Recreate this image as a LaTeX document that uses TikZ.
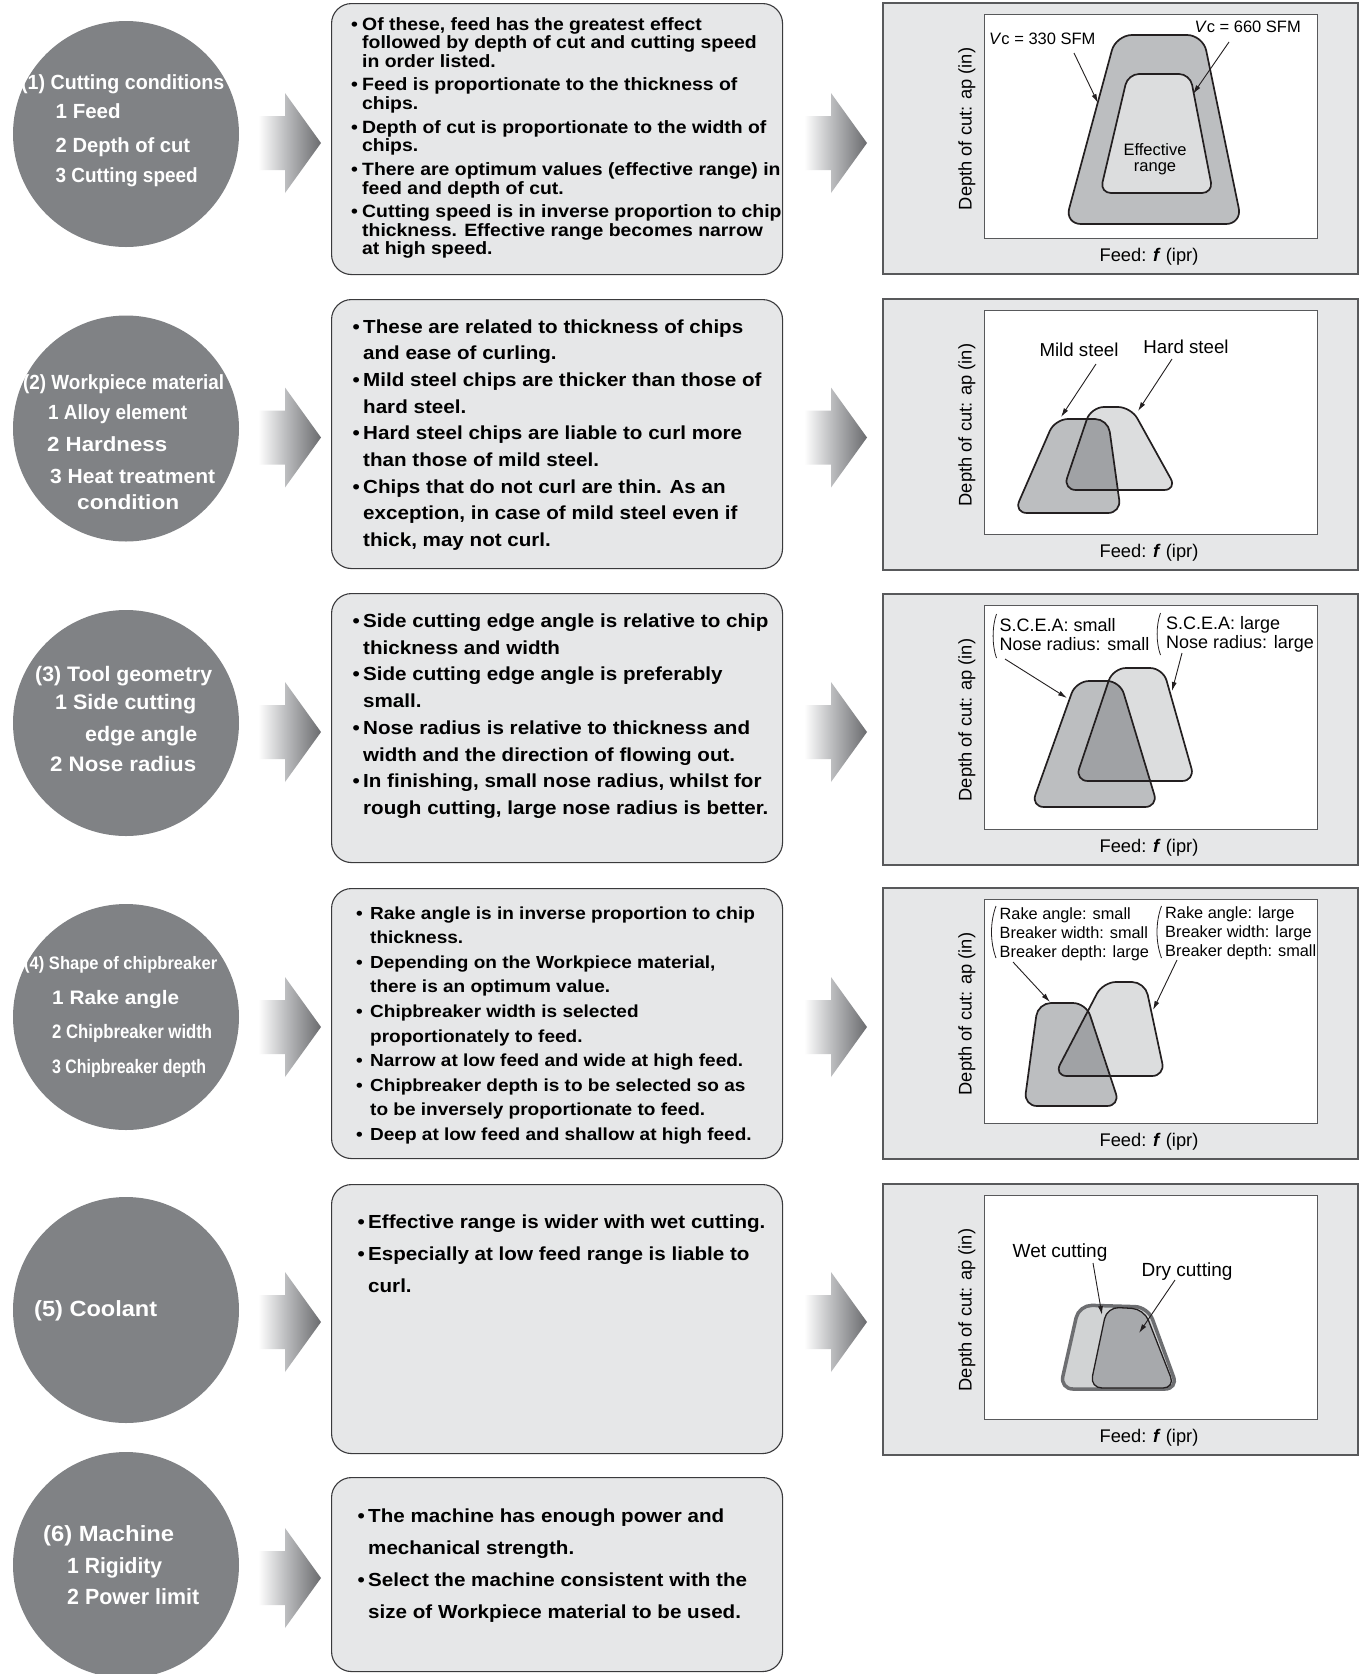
\documentclass[tikz,border=0pt]{standalone}
\usepackage{fontspec}
\setmainfont{Liberation Sans}
\newfontfamily\wfont[FakeStretch=1.09]{Liberation Sans}
\usepackage{graphicx}
\usetikzlibrary{arrows.meta}
\definecolor{discgray}{HTML}{808285}
\definecolor{boxfill}{HTML}{E6E7E8}
\definecolor{boxline}{HTML}{3A3A3C}
\definecolor{panline}{HTML}{58595B}
\definecolor{shA}{HTML}{BCBEC0}
\definecolor{shB}{HTML}{DCDDDE}
\definecolor{shC}{HTML}{A0A2A5}
\definecolor{wetfill}{HTML}{D1D3D4}
\definecolor{wetline}{HTML}{6D6E71}
\definecolor{dryfill}{HTML}{A7A9AC}
\definecolor{ink}{HTML}{231F20}
\definecolor{arrmid}{HTML}{BEBFC1}
\definecolor{arrtip}{HTML}{6A6B6E}
\pgfdeclarehorizontalshading{arrshade}{100bp}{color(0bp)=(white); color(32bp)=(white); color(50bp)=(arrmid); color(75bp)=(arrtip); color(100bp)=(arrtip)}
\newlength\bw
\newcommand\bu{\makebox[\bw][l]{\textbullet}}
\newcommand\ci{\hspace*{\bw}}
\newcommand\rs[2]{\resizebox{#1pt}{\height}{#2}}
\newcommand\bigarrow[2]{\shade[shading=arrshade] (#1-73,#2-27) -- (#1-36,#2-27) -- (#1-36,#2-50) -- (#1,#2) -- (#1-36,#2+50) -- (#1-36,#2+27) -- (#1-73,#2+27) -- cycle;}
\newcommand\panelat[2]{%
 \node[panel] (p#1) at (882,#2) {};
 \node[plotarea] (q#1) at (984,#2+12) {};
 \node[lab={18.3}{18.3}, anchor=base, rotate=90] (y#1) at (971.5,#2+127) {Depth of cut: ap (in)};
 \node[lab={18.3}{18.3}, anchor=base] (x#1) at (1149,#2+259.5) {Feed: \textbf{\textit{f}} (ipr)};
}
\begin{document}
\begin{tikzpicture}[x=1pt,y=-1pt,
 disc/.style={circle, fill=discgray, minimum size=226pt, inner sep=0pt},
 ct/.style={anchor=base west, inner sep=0pt, text=white, font=\bfseries\fontsize{#1}{#1}\selectfont},
 tbox/.style={draw=boxline, fill=boxfill, line width=1.1pt, rounded corners=20pt, anchor=north west, inner sep=0pt, minimum width=451pt},
 panel/.style={draw=panline, fill=boxfill, line width=1.5pt, anchor=north west, inner sep=0pt, minimum width=475pt, minimum height=271pt},
 plotarea/.style={draw=panline, fill=white, line width=1.1pt, anchor=north west, inner sep=0pt, minimum width=333pt, minimum height=224pt},
 btext/.style={anchor=base west, inner sep=0pt},
 lab/.style 2 args={inner sep=0pt, font=\fontsize{#1}{#2}\selectfont},
 ptr/.style={draw=ink, line width=0.9pt, -{Latex[length=9pt,width=5pt]}},
 shp/.style={draw=ink, line width=1.7pt, rounded corners=13pt},
 paren/.style={draw=ink, line width=0.8pt},
]
\useasboundingbox (0,0) rectangle (1362,1674);
\fill[white] (0,0) rectangle (1362,1674);
\clip (0,0) rectangle (1362,1674);

% circles
\foreach \n/\y in {1/134,2/428.5,3/723,4/1017,5/1310,6/1565} {\node[disc] (c\n) at (126,\y) {};}

% block arrows
\foreach \yy in {143,437.5,732,1027,1322,1578} {\bigarrow{321}{\yy}}
\foreach \yy in {143,437.5,732,1027,1322} {\bigarrow{867}{\yy}}

% text boxes
\node[tbox, minimum height=271pt] (b1) at (331,3) {};
\node[tbox, minimum height=269pt] (b2) at (331,299) {};
\node[tbox, minimum height=269pt] (b3) at (331,593) {};
\node[tbox, minimum height=270pt] (b4) at (331,888) {};
\node[tbox, minimum height=269pt] (b5) at (331,1184) {};
\node[tbox, minimum height=194pt] (b6) at (331,1477) {};

% circle texts
\node[ct=20.5] (c1t) at (21,89) {\rs{203}{(1) Cutting conditions}};
\node[ct=20.5] (c1a) at (55.5,118) {\rs{65}{1 Feed}};
\node[ct=20.5] (c1b) at (55.5,152.5) {\rs{134.5}{2 Depth of cut}};
\node[ct=20.5] (c1c) at (55.5,182.5) {\rs{142}{3 Cutting speed}};

\node[ct=20.5] (c2t) at (23,389.4) {\rs{201}{(2) Workpiece material}};
\node[ct=20.5] (c2a) at (48,419.4) {\rs{139}{1 Alloy element}};
\node[ct=20.5] (c2b) at (47,451.4) {\rs{120}{2 Hardness}};
\node[ct=20.5] (c2c) at (50,483.4) {\rs{165}{3 Heat treatment}};
\node[ct=20.5] (c2d) at (77,509.4) {\rs{102}{condition}};

\node[ct=21] (c3t) at (35,681.6) {\rs{177}{(3) Tool geometry}};
\node[ct=21] (c3a) at (55,709.6) {\rs{141}{1 Side cutting}};
\node[ct=21] (c3b) at (85,741.6) {\rs{112}{edge angle}};
\node[ct=21] (c3c) at (50,771.6) {\rs{146}{2 Nose radius}};

\node[ct=18] (c4t) at (24,969.5) {\rs{193}{(4) Shape of chipbreaker}};
\node[ct=19.5] (c4a) at (52,1004) {\rs{127}{1 Rake angle}};
\node[ct=19.5] (c4b) at (52,1038) {\rs{160}{2 Chipbreaker width}};
\node[ct=19.5] (c4c) at (52,1073) {\rs{154}{3 Chipbreaker depth}};

\node[ct=22] (c5t) at (34,1316.7) {\rs{123}{(5) Coolant}};

\node[ct=22] (c6t) at (43,1541.7) {\rs{131}{(6) Machine}};
\node[ct=22] (c6a) at (67,1573.3) {\rs{95}{1 Rigidity}};
\node[ct=22] (c6b) at (67,1604) {\rs{132}{2 Power limit}};

% box texts
\node[btext] (t1) at (351,30) {\parbox[t]{540pt}{\setlength\bw{11pt}\wfont\bfseries\fontsize{17.8}{18.7}\selectfont
\bu Of these, feed has the greatest effect\\
\ci followed by depth of cut and cutting speed\\
\ci in order listed.\\[4.8pt]
\bu Feed is proportionate to the thickness of\\
\ci chips.\\[4.8pt]
\bu Depth of cut is proportionate to the width of\\
\ci chips.\\[4.8pt]
\bu There are optimum values (effective range) in\\
\ci feed and depth of cut.\\[4.8pt]
\bu Cutting speed is in inverse proportion to chip\\
\ci thickness. Effective range becomes narrow\\
\ci at high speed.}};

\node[btext] (t2) at (352.5,333) {\parbox[t]{540pt}{\setlength\bw{10.5pt}\wfont\bfseries\fontsize{18.9}{26.7}\selectfont
\bu These are related to thickness of chips\\
\ci and ease of curling.\\
\bu Mild steel chips are thicker than those of\\
\ci hard steel.\\
\bu Hard steel chips are liable to curl more\\
\ci than those of mild steel.\\
\bu Chips that do not curl are thin. As an\\
\ci exception, in case of mild steel even if\\
\ci thick, may not curl.}};

\node[btext] (t3) at (352.5,627.5) {\parbox[t]{540pt}{\setlength\bw{10.5pt}\wfont\bfseries\fontsize{18.9}{26.7}\selectfont
\bu Side cutting edge angle is relative to chip\\
\ci thickness and width\\
\bu Side cutting edge angle is preferably\\
\ci small.\\
\bu Nose radius is relative to thickness and\\
\ci width and the direction of flowing out.\\
\bu In finishing, small nose radius, whilst for\\
\ci rough cutting, large nose radius is better.}};

\node[btext] (t4) at (356,919) {\parbox[t]{540pt}{\setlength\bw{14pt}\wfont\bfseries\fontsize{17.45}{24.6}\selectfont
\bu Rake angle is in inverse proportion to chip\\
\ci thickness.\\
\bu Depending on the Workpiece material,\\
\ci there is an optimum value.\\
\bu Chipbreaker width is selected\\
\ci proportionately to feed.\\
\bu Narrow at low feed and wide at high feed.\\
\bu Chipbreaker depth is to be selected so as\\
\ci to be inversely proportionate to feed.\\
\bu Deep at low feed and shallow at high feed.}};

\node[btext] (t5) at (357.5,1228.3) {\parbox[t]{540pt}{\setlength\bw{10.5pt}\wfont\bfseries\fontsize{18.9}{32}\selectfont
\bu Effective range is wider with wet cutting.\\
\bu Especially at low feed range is liable to\\
\ci curl.}};

\node[btext] (t6) at (357.5,1522) {\parbox[t]{540pt}{\setlength\bw{10.5pt}\wfont\bfseries\fontsize{18.9}{32}\selectfont
\bu The machine has enough power and\\
\ci mechanical strength.\\
\bu Select the machine consistent with the\\
\ci size of Workpiece material to be used.}};

% panels
\panelat{1}{2}
\panelat{2}{298}
\panelat{3}{593}
\panelat{4}{887}
\panelat{5}{1183}

% panel 1 shapes
\draw[shp, fill=shA, rounded corners=16pt] (1116,35) -- (1203,35) -- (1242,224) -- (1065,224) -- cycle;
\draw[shp, fill=shB, rounded corners=11pt] (1128,74) -- (1190,74) -- (1213,193) -- (1100,193) -- cycle;
\node[lab={16.5}{16}, anchor=base west] (v330) at (989,44.3) {\textit{V}c = 330 SFM};
\node[lab={16.5}{16}, anchor=base east] (v660) at (1301,32) {\textit{V}c = 660 SFM};
\node[lab={16.5}{16}, anchor=base] (eff) at (1155,155) {\parbox[t]{90pt}{\centering Effective\\range}};
\coordinate (a1s) at (1074,53); \coordinate (a1e) at (1098,103);
\coordinate (a2s) at (1229,42); \coordinate (a2e) at (1193,94);
\draw[ptr] (a1s) -- (a1e);
\draw[ptr] (a2s) -- (a2e);

% panel 2 shapes
\fill[shA, rounded corners=13pt] (1055,419) -- (1108,419) -- (1121,513) -- (1014,513) -- cycle;
\fill[shB, rounded corners=13pt] (1091,407) -- (1131,407) -- (1177,490) -- (1063,490) -- cycle;
\begin{scope}
\clip[rounded corners=13pt] (1055,419) -- (1108,419) -- (1121,513) -- (1014,513) -- cycle;
\fill[shC, rounded corners=13pt] (1091,407) -- (1131,407) -- (1177,490) -- (1063,490) -- cycle;
\end{scope}
\draw[shp] (1055,419) -- (1108,419) -- (1121,513) -- (1014,513) -- cycle;
\draw[shp] (1091,407) -- (1131,407) -- (1177,490) -- (1063,490) -- cycle;
\node[lab={18.7}{18.7}, anchor=base] (mild) at (1079,356.7) {Mild steel};
\node[lab={18.7}{18.7}, anchor=base] (hard) at (1186,353.3) {Hard steel};
\coordinate (a3s) at (1096,364); \coordinate (a3e) at (1061,417);
\coordinate (a4s) at (1172,359); \coordinate (a4e) at (1138,411);
\draw[ptr] (a3s) -- (a3e);
\draw[ptr] (a4s) -- (a4e);

% panel 3 shapes
\fill[shA, rounded corners=13pt] (1076,681) -- (1120,681) -- (1158,807) -- (1031,807) -- cycle;
\fill[shB, rounded corners=13pt] (1113,668) -- (1163,668) -- (1195,781) -- (1075,781) -- cycle;
\begin{scope}
\clip[rounded corners=13pt] (1076,681) -- (1120,681) -- (1158,807) -- (1031,807) -- cycle;
\fill[shC, rounded corners=13pt] (1113,668) -- (1163,668) -- (1195,781) -- (1075,781) -- cycle;
\end{scope}
\draw[shp] (1076,681) -- (1120,681) -- (1158,807) -- (1031,807) -- cycle;
\draw[shp] (1113,668) -- (1163,668) -- (1195,781) -- (1075,781) -- cycle;
\node[lab={18}{19}, anchor=base west] (sc1) at (999.5,631.7) {\parbox[t]{170pt}{S.C.E.A: small\\Nose radius: small}};
\node[lab={18}{19}, anchor=base west] (sc2) at (1166,629) {\parbox[t]{170pt}{S.C.E.A: large\\Nose radius: large}};
\draw[paren] (996.5,614) .. controls (992,626) and (992,646) .. (996.5,658);
\draw[paren] (1160.5,613) .. controls (1156,625) and (1156,643) .. (1160.5,655);
\coordinate (a5s) at (1005,659); \coordinate (a5e) at (1067,698);
\coordinate (a6s) at (1182,653); \coordinate (a6e) at (1172,691);
\draw[ptr] (a5s) -- (a5e);
\draw[ptr] (a6s) -- (a6e);

% panel 4 shapes
\fill[shA, rounded corners=13pt] (1038,1003) -- (1086,1003) -- (1120,1106) -- (1024,1106) -- cycle;
\fill[shB, rounded corners=13pt] (1103,982) -- (1145,982) -- (1165,1076) -- (1054,1076) -- cycle;
\begin{scope}
\clip[rounded corners=13pt] (1038,1003) -- (1086,1003) -- (1120,1106) -- (1024,1106) -- cycle;
\fill[shC, rounded corners=13pt] (1103,982) -- (1145,982) -- (1165,1076) -- (1054,1076) -- cycle;
\end{scope}
\draw[shp] (1038,1003) -- (1086,1003) -- (1120,1106) -- (1024,1106) -- cycle;
\draw[shp] (1103,982) -- (1145,982) -- (1165,1076) -- (1054,1076) -- cycle;
\node[lab={16.3}{19}, anchor=base west] (rk1) at (999.5,919.3) {\parbox[t]{170pt}{Rake angle: small\\Breaker width: small\\Breaker depth: large}};
\node[lab={16.3}{19}, anchor=base west] (rk2) at (1165,918.3) {\parbox[t]{170pt}{Rake angle: large\\Breaker width: large\\Breaker depth: small}};
\draw[paren] (996,906) .. controls (990,922) and (990,942) .. (996,958);
\draw[paren] (1161.5,906) .. controls (1155.5,922) and (1155.5,942) .. (1161.5,958);
\coordinate (a7s) at (1013,962); \coordinate (a7e) at (1050,1002);
\coordinate (a8s) at (1177,960); \coordinate (a8e) at (1153,1010);
\draw[ptr] (a7s) -- (a7e);
\draw[ptr] (a8s) -- (a8e);

% panel 5 shapes
\draw[draw=wetline, line width=3.5pt, fill=wetfill, rounded corners=13pt] (1079,1305) -- (1148,1307) -- (1178,1389) -- (1060,1389) -- cycle;
\draw[draw=ink, line width=1.3pt, fill=dryfill, rounded corners=12pt] (1107,1307) -- (1144,1309) -- (1175,1388) -- (1090,1388) -- cycle;
\node[lab={19}{19}, anchor=base] (wet) at (1060,1257.3) {Wet cutting};
\node[lab={19}{19}, anchor=base] (dry) at (1187,1276.7) {Dry cutting};
\coordinate (a9s) at (1093,1263); \coordinate (a9e) at (1102,1315);
\coordinate (a10s) at (1175,1280); \coordinate (a10e) at (1139,1333);
\draw[ptr] (a9s) -- (a9e);
\draw[ptr] (a10s) -- (a10e);
\end{tikzpicture}
\end{document}
